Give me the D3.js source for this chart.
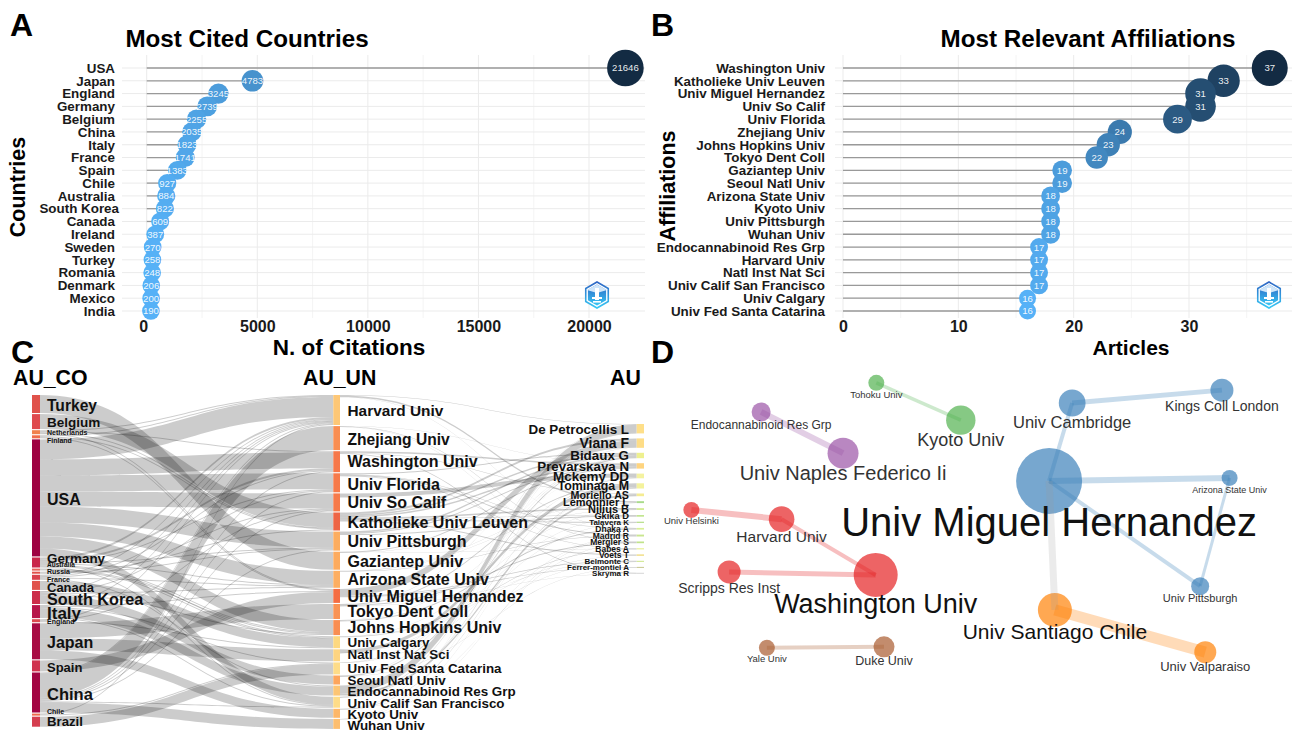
<!DOCTYPE html>
<html><head><meta charset="utf-8">
<script src="https://cdn.jsdelivr.net/npm/d3@7/dist/d3.min.js"></script>
<style>
html,body{margin:0;padding:0;background:#fff}
svg{display:block}
text{font-family:"Liberation Sans",Arial,sans-serif}
</style></head><body><svg id="c" width="1304" height="732"></svg>
<script>
// ---------- Panel A data
const countries=["USA","Japan","England","Germany","Belgium","China","Italy","France","Spain","Chile","Australia","South Korea","Canada","Ireland","Sweden","Turkey","Romania","Denmark","Mexico","India"];
const citations=[21646,4783,3245,2739,2255,2035,1823,1741,1383,927,884,822,609,387,270,258,248,206,200,190];
const citationTicks=[0,5000,10000,15000,20000];
const citationMinor=[2500,7500,12500,17500];
// ---------- Panel B data
const affiliations=["Washington Univ","Katholieke Univ Leuven","Univ Miguel Hernandez","Univ So Calif","Univ Florida","Zhejiang Univ","Johns Hopkins Univ","Tokyo Dent Coll","Gaziantep Univ","Seoul Natl Univ","Arizona State Univ","Kyoto Univ","Univ Pittsburgh","Wuhan Univ","Endocannabinoid Res Grp","Harvard Univ","Natl Inst Nat Sci","Univ Calif San Francisco","Univ Calgary","Univ Fed Santa Catarina"];
const articles=[37,33,31,31,29,24,23,22,19,19,18,18,18,18,17,17,17,17,16,16];
const articleTicks=[0,10,20,30];
const articleMinor=[5,15,25,35];
// ---------- Panel C data
const auCo=["Turkey","Belgium","Netherlands","Finland","USA","Germany","Australia","Russia","France","Canada","South Korea","Italy","England","Japan","Spain","China","Chile","Brazil"];
const auUn=["Harvard Univ","Zhejiang Univ","Washington Univ","Univ Florida","Univ So Calif","Katholieke Univ Leuven","Univ Pittsburgh","Gaziantep Univ","Arizona State Univ","Univ Miguel Hernandez","Tokyo Dent Coll","Johns Hopkins Univ","Univ Calgary","Natl Inst Nat Sci","Univ Fed Santa Catarina","Seoul Natl Univ","Endocannabinoid Res Grp","Univ Calif San Francisco","Kyoto Univ","Wuhan Univ"];
const au=["De Petrocellis L","Viana F","Bidaux G","Prevarskaya N","Mckemy DD","Tominaga M","Moriello AS","Lemonnier L","Nilius B","Gkika D","Talavera K","Dhaka A","Madrid R","Mergler S","Babes A","Voets T","Belmonte C","Ferrer-montiel A","Skryma R"];
const coUn=[["Turkey","Gaziantep Univ",18],["Belgium","Katholieke Univ Leuven",15],
["Netherlands","Katholieke Univ Leuven",1],["Netherlands","Harvard Univ",1],["Netherlands","Washington Univ",1],["Netherlands","Univ Miguel Hernandez",1],
["Finland","Katholieke Univ Leuven",1],["Finland","Harvard Univ",1],["Finland","Univ Miguel Hernandez",1],
["Russia","Katholieke Univ Leuven",1],["Russia","Univ Pittsburgh",1],
["China","Zhejiang Univ",24],["China","Wuhan Univ",10],["China","Washington Univ",1],["China","Univ Florida",1],["China","Univ So Calif",1],["China","Univ Calif San Francisco",1],["China","Univ Pittsburgh",1],["China","Harvard Univ",1],
["Japan","Tokyo Dent Coll",15],["Japan","Natl Inst Nat Sci",12],["Japan","Kyoto Univ",9],
["Spain","Univ Miguel Hernandez",11],
["Brazil","Univ Fed Santa Catarina",10],["Chile","Univ Fed Santa Catarina",1],["Chile","Harvard Univ",1],
["South Korea","Seoul Natl Univ",9],["South Korea","Harvard Univ",1],["South Korea","Johns Hopkins Univ",1],["South Korea","Univ Florida",1],["South Korea","Arizona State Univ",1],
["Canada","Univ Calgary",9],
["Italy","Endocannabinoid Res Grp",9],["Italy","Univ Miguel Hernandez",1],["Italy","Univ Fed Santa Catarina",1],["Italy","Univ Calif San Francisco",1],["Italy","Harvard Univ",1],
["England","Univ Calgary",1],["England","Harvard Univ",1],["England","Univ So Calif",1],
["Germany","Univ Calgary",1],["Germany","Harvard Univ",2],["Germany","Washington Univ",2],["Germany","Univ Pittsburgh",1],["Germany","Univ Florida",1],["Germany","Univ Calif San Francisco",1],["Germany","Arizona State Univ",1],["Germany","Johns Hopkins Univ",1],
["Australia","Univ Calgary",1],["Australia","Johns Hopkins Univ",1],
["France","Endocannabinoid Res Grp",1],["France","Harvard Univ",1],["France","Washington Univ",1],["France","Univ So Calif",1],["France","Arizona State Univ",1],
["USA","Harvard Univ",20],["USA","Washington Univ",16],["USA","Univ Florida",16],["USA","Univ So Calif",15],["USA","Univ Pittsburgh",16],["USA","Arizona State Univ",14],["USA","Johns Hopkins Univ",12],["USA","Univ Calif San Francisco",8]];
const unAu=[["Endocannabinoid Res Grp","De Petrocellis L",8],["Harvard Univ","De Petrocellis L",.5],["Univ Calif San Francisco","De Petrocellis L",.5],
["Univ Miguel Hernandez","Viana F",7],["Katholieke Univ Leuven","Viana F",2],
["Katholieke Univ Leuven","Bidaux G",1.5],["Univ Pittsburgh","Bidaux G",1.5],["Seoul Natl Univ","Bidaux G",1],["Univ Florida","Bidaux G",1],
["Katholieke Univ Leuven","Prevarskaya N",1.5],["Univ Pittsburgh","Prevarskaya N",1],["Washington Univ","Prevarskaya N",1.5],["Gaziantep Univ","Prevarskaya N",1],
["Univ So Calif","Mckemy DD",4],["Univ Calif San Francisco","Mckemy DD",.5],
["Natl Inst Nat Sci","Tominaga M",3.5],["Tokyo Dent Coll","Tominaga M",1],["Kyoto Univ","Tominaga M",.5],
["Endocannabinoid Res Grp","Moriello AS",2],["Washington Univ","Moriello AS",.5],
["Harvard Univ","Lemonnier L",1.5],["Katholieke Univ Leuven","Nilius B",1.5],
["Univ Pittsburgh","Gkika D",1],["Katholieke Univ Leuven","Gkika D",.5],["Katholieke Univ Leuven","Talavera K",1],
["Johns Hopkins Univ","Dhaka A",1],["Univ Florida","Dhaka A",.5],["Univ Florida","Madrid R",1],["Arizona State Univ","Madrid R",.5],
["Tokyo Dent Coll","Mergler S",1],["Zhejiang Univ","Mergler S",.5],["Univ Florida","Babes A",.5],["Univ Calgary","Babes A",.5],
["Katholieke Univ Leuven","Voets T",1],["Univ Miguel Hernandez","Belmonte C",.7],["Univ Miguel Hernandez","Ferrer-montiel A",.7],["Washington Univ","Skryma R",.7],
["Univ Fed Santa Catarina","Talavera K",.2],["Wuhan Univ","Madrid R",.2],["Zhejiang Univ","Voets T",.2],["Univ Calgary","Nilius B",.2],["Arizona State Univ","Lemonnier L",.2],["Johns Hopkins Univ","Belmonte C",.2],["Seoul Natl Univ","Ferrer-montiel A",.2],["Tokyo Dent Coll","Skryma R",.2],["Natl Inst Nat Sci","Gkika D",.2],["Kyoto Univ","Mergler S",.2],["Gaziantep Univ","Babes A",.2],["Wuhan Univ","Viana F",.2],["Univ Fed Santa Catarina","Bidaux G",.2],["Seoul Natl Univ","De Petrocellis L",.2],
["Univ Calgary","Prevarskaya N",.2],["Natl Inst Nat Sci","Bidaux G",.2],["Univ Fed Santa Catarina","Mckemy DD",.2],["Kyoto Univ","De Petrocellis L",.2],["Wuhan Univ","Tominaga M",.2],["Johns Hopkins Univ","Moriello AS",.2],["Gaziantep Univ","Lemonnier L",.2],["Arizona State Univ","Nilius B",.2],["Tokyo Dent Coll","Viana F",.2],["Harvard Univ","Dhaka A",.2],["Zhejiang Univ","Prevarskaya N",.2],["Univ Calgary","Voets T",.2],["Natl Inst Nat Sci","Belmonte C",.2],["Univ Calif San Francisco","Madrid R",.2]];
// Panel C styling tables (kept apart from the values)
const coColors=["#E0524B","#DF4A4E","#F0814D","#F06D4B","#9E0142","#C9264A","#E8635A","#E0524B","#D9434E","#E0524B","#CC2D4A","#B7164A","#DC4A4F","#A80B44","#D0334F","#A30543","#EE6A4B","#D53E4F"];
const unColors=["#FDC776","#F98E52","#F6784A","#F67A4A","#F67A4A","#EE6545","#FCAD60","#FDAB5E","#FDAE61","#F46D43","#F99355","#F98E52","#FDD87F","#FED480","#FEDC88","#FDA55C","#FDC574","#FEDC88","#FDB768","#FDBE6F"];
const auColors=["#FEDF89","#FEDD87","#EEF08F","#FED47F","#F4F2A0","#F4F29C","#F5EC92","#A9DB8A","#D4EC96","#C2E691","#B4DE85","#D9EF96","#C9E68F","#C0E38A","#E8F094","#F0DC80","#D0E890","#C0C080","#D0D0D0"];
const coFont=[15.6,13.5,7,7,16,13.4,6.5,7,7,13,16.2,17,7,16,13,16.5,7,13.2];
const coDy=[1,.5,0,3.5,1,-4,-5,-1,2,2,2,1,1,1,1,2,-3,0];
const unFont=[15.4,15.6,16,16,16,16,16,16,16,16,16,16,13.4,13.4,13.4,13.4,13.4,13.4,13.4,13.4];
const unDy=[0,1,0,1,0,1,0,1,0,0,0,0,0,-1,0,0,1,1,1,1];
const auFont=[13.4,14,13.4,13.3,13.4,12.4,10.7,11,11,9.3,8,8.5,8.5,8.5,8.5,8.5,8,8,8];
// ---------- Panel D data
const netNames=["Univ Miguel Hernandez","Univ Cambridge","Kings Coll London","Arizona State Univ","Univ Pittsburgh","Univ Santiago Chile","Univ Valparaiso","Washington Univ","Harvard Univ","Univ Helsinki","Scripps Res Inst","Univ Naples Federico Ii","Endocannabinoid Res Grp","Tohoku Univ","Kyoto Univ","Yale Univ","Duke Univ"];
const netX=[60.8,64.4,87.8,89,84.4,61.7,85.2,33.7,19,4.9,10.8,28.6,15.8,33.8,47,16.7,35];
const netY=[33.6,10,6.1,32.7,65.5,72.7,85.5,62.1,45.2,42.4,61.2,25.2,12.7,3.9,15.2,84.2,83.9];
const netSize=[33,13.4,11.5,8,9,17,11,22,12.8,8,11.5,15.5,9.5,8,14.7,8,10.5];
const netGroup=[0,0,0,0,0,1,1,2,2,2,2,3,3,4,4,5,5];
const netEdges=[[0,1,4],[1,2,5],[0,3,6],[0,4,4],[3,4,3],[0,5,7],[5,6,11],[7,8,4],[8,9,6],[7,10,5],[11,12,6],[13,14,3.5],[15,16,4]];
const netLabelSize=[40,16.5,14,9,11,21,13,27,15.5,9.5,14,20,12,9.5,18,9.5,12.5];
const netLabelDy=[14,8,7,5,5,8,5,11,7,4,7,7,5,5,8,4,5];
const netPalette=["#377EB8","#FF7F00","#E41A1C","#984EA3","#4DAF4A","#A65628"];

const svg=d3.select("#c");
svg.append("rect").attr("width",1304).attr("height",732).attr("fill","#fff");
const defs=svg.append("defs");
const grad=defs.append("linearGradient").attr("id","hexg").attr("x1",0).attr("y1",0).attr("x2",0).attr("y2",1);
grad.append("stop").attr("offset",0).attr("stop-color","#2f66c4");
grad.append("stop").attr("offset",1).attr("stop-color","#37c8f5");

function panelLetter(t,x,y){svg.append("text").attr("x",x).attr("y",y).attr("font-size",32).attr("font-weight",700).attr("fill","#000").text(t);}
panelLetter("A",10,36);panelLetter("B",651,36);panelLetter("C",11,363);panelLetter("D",651,363);

function hexLogo(g,cx,cy){
  const hex=r=>d3.line()(d3.range(6).map(i=>{const a=Math.PI/3*i-Math.PI/2;return [cx+r*Math.cos(a),cy+r*Math.sin(a)];}))+"Z";
  g.append("path").attr("d",hex(13)).attr("fill","#fff").attr("stroke","url(#hexg)").attr("stroke-width",1.6);
  g.append("path").attr("d",hex(10.5)).attr("fill","url(#hexg)");
  g.append("path").attr("d",`M${cx-10},${cy-5}L${cx},${cy-10.5}L${cx+10},${cy-5}L${cx},${cy-2}Z`).attr("fill","#cfe6fa");
  g.append("rect").attr("x",cx-2).attr("y",cy-7).attr("width",4).attr("height",12).attr("fill","#fff");
  g.append("rect").attr("x",cx-5).attr("y",cy+2).attr("width",10).attr("height",2).attr("fill","#fff");
  g.append("rect").attr("x",cx-4).attr("y",cy+6).attr("width",8).attr("height",1.6).attr("fill","#fff");
}

function lollipop(o){
  const g=svg.append("g");
  const x=d3.scaleLinear().domain(o.dom).range(o.rng);
  const y=d3.scalePoint().domain(o.cats).range([68,311]);
  const color=d3.scaleLinear().domain(d3.extent(o.vals)).range(["#56B1F7","#132B43"]).interpolate(d3.interpolateLab);
  const r=d3.scaleLinear().domain(d3.extent(o.vals)).range(o.rr);
  g.append("g").selectAll("line").data(o.minor).join("line").attr("x1",d=>x(d)).attr("x2",d=>x(d)).attr("y1",55).attr("y2",318).attr("stroke","#f1f1f1").attr("stroke-width",.8);
  g.append("g").selectAll("line").data(o.ticks).join("line").attr("x1",d=>x(d)).attr("x2",d=>x(d)).attr("y1",55).attr("y2",318).attr("stroke","#ebebeb").attr("stroke-width",1);
  g.append("g").selectAll("line").data(o.cats).join("line").attr("x1",o.gx0).attr("x2",o.gx1).attr("y1",d=>y(d)).attr("y2",d=>y(d)).attr("stroke","#ebebeb").attr("stroke-width",1);
  g.append("g").selectAll("line").data(o.cats).join("line").attr("x1",x(0)).attr("x2",(d,i)=>x(o.vals[i])).attr("y1",d=>y(d)).attr("y2",d=>y(d)).attr("stroke","#999").attr("stroke-width",1.3);
  hexLogo(g,o.logoX,295);
  const idx=d3.range(o.cats.length);
  g.append("g").selectAll("circle").data(idx).join("circle").attr("cx",i=>x(o.vals[i])).attr("cy",i=>y(o.cats[i])).attr("r",i=>r(o.vals[i])).attr("fill",i=>color(o.vals[i]));
  g.append("g").selectAll("text").data(idx).join("text").attr("x",i=>x(o.vals[i])).attr("y",i=>y(o.cats[i])).attr("dy",".36em").attr("text-anchor","middle").attr("font-size",o.dotFont).attr("fill","#fff").attr("fill-opacity",.92).text(i=>o.vals[i]);
  const ax=g.append("g").attr("transform","translate(0,318)").call(d3.axisBottom(x).tickValues(o.ticks).tickFormat(d3.format("d")).tickSize(0).tickPadding(3));
  ax.select(".domain").remove();
  ax.selectAll("text").attr("font-size",16).attr("font-weight",700).attr("fill","#1a1a1a").attr("dx",d=>d===0?o.zeroDx:0).style("font-family",'"Liberation Sans",Arial,sans-serif');
  const ay=g.append("g").attr("transform",`translate(${o.axX},0)`).call(d3.axisLeft(y).tickSize(0).tickPadding(0));
  ay.select(".domain").remove();
  ay.selectAll("text").attr("font-size",13.4).attr("font-weight",700).attr("fill","#1a1a1a").attr("dx",d=>d==="South Korea"?4:0).style("font-family",'"Liberation Sans",Arial,sans-serif');
  g.append("text").attr("x",o.titleX).attr("y",47).attr("text-anchor","middle").attr("font-size",24.2).attr("font-weight",700).attr("fill","#000").text(o.title);
  g.append("text").attr("x",o.xlabX).attr("y",355).attr("text-anchor","middle").attr("font-size",o.xlabSize).attr("font-weight",700).attr("fill","#000").text(o.xlab);
  g.append("text").attr("transform",`translate(${o.ylabX},${o.ylabY}) rotate(-90)`).attr("text-anchor","middle").attr("font-size",21.5).attr("font-weight",700).attr("fill","#000").text(o.ylab);
}
lollipop({cats:countries,vals:citations,dom:[0,20000],rng:[146.7,589],ticks:citationTicks,minor:citationMinor,gx0:122,gx1:645,rr:[8.8,18.3],axX:115,logoX:597,dotFont:9.6,zeroDx:-3.5,title:"Most Cited Countries",titleX:247,xlab:"N. of Citations",xlabX:349,xlabSize:22.5,ylab:"Countries",ylabX:25,ylabY:187});
lollipop({cats:affiliations,vals:articles,dom:[0,30],rng:[843,1189],ticks:articleTicks,minor:articleMinor,gx0:835,gx1:1292,rr:[8.5,18],axX:825,logoX:1269,dotFont:9.6,zeroDx:0,title:"Most Relevant Affiliations",titleX:1088,xlab:"Articles",xlabX:1131,xlabSize:21,ylab:"Affiliations",ylabX:675,ylabY:186});

// ---------- Panel C: three-column alluvial
(function(){
  const g=svg.append("g");
  const cols=[{names:auCo,x0:32,x1:40,start:395,gap:1.1},{names:auUn,x0:333.3,x1:340,start:395,gap:1.1},{names:au,x0:636.7,x1:644,start:424,gap:5}];
  const nodes=new Map();
  cols.forEach((c,ci)=>c.names.forEach((n,i)=>nodes.set(ci+"|"+n,{name:n,col:ci,i,inn:[],out:[]})));
  const links=[];
  coUn.forEach(([a,b,v])=>links.push({s:nodes.get("0|"+a),t:nodes.get("1|"+b),v}));
  unAu.forEach(([a,b,v])=>links.push({s:nodes.get("1|"+a),t:nodes.get("2|"+b),v}));
  links.forEach(l=>{l.s.out.push(l);l.t.inn.push(l);});
  cols.forEach((c,ci)=>{
    let y=c.start;
    c.names.forEach(n=>{
      const d=nodes.get(ci+"|"+n);
      d.h=Math.max(d3.sum(d.inn,l=>l.v),d3.sum(d.out,l=>l.v));
      d.y=y;y+=d.h+c.gap;
      let yo=d.y;d.out.sort((a,b)=>d3.ascending(a.t.i,b.t.i)).forEach(l=>{l.y0=yo;yo+=l.v;});
      let yi=d.y;d.inn.sort((a,b)=>d3.ascending(a.s.i,b.s.i)).forEach(l=>{l.y1=yi;yi+=l.v;});
    });
  });
  const ribbon=l=>{
    const x0=cols[l.s.col].x1,x1=cols[l.t.col].x0,xm=(x0+x1)/2,p=d3.path();
    p.moveTo(x0,l.y0);p.bezierCurveTo(xm,l.y0,xm,l.y1,x1,l.y1);
    p.lineTo(x1,l.y1+l.v);p.bezierCurveTo(xm,l.y1+l.v,xm,l.y0+l.v,x0,l.y0+l.v);p.closePath();
    return p.toString();
  };
  g.append("g").selectAll("path").data(links).join("path").attr("d",ribbon).attr("fill","#000").attr("fill-opacity",.2);
  const colorsBy=[coColors,unColors,auColors];
  const all=[...nodes.values()];
  g.append("g").selectAll("rect").data(all).join("rect").attr("x",d=>cols[d.col].x0).attr("width",d=>cols[d.col].x1-cols[d.col].x0).attr("y",d=>d.y).attr("height",d=>d.h).attr("fill",d=>colorsBy[d.col][d.i]);
  const sizes=[coFont,unFont,auFont];
  const dys=[coDy,unDy,au.map(()=>0)];
  g.append("g").selectAll("text").data(all).join("text")
    .attr("x",d=>d.col==0?47:d.col==1?347.5:629)
    .attr("y",d=>d.y+d.h/2+dys[d.col][d.i]).attr("dy",".36em")
    .attr("text-anchor",d=>d.col==2?"end":"start")
    .attr("font-size",d=>sizes[d.col][d.i]).attr("font-weight",700).attr("fill","#111").text(d=>d.name);
  [["AU_CO",13],["AU_UN",303],["AU",610]].forEach(([t,x])=>g.append("text").attr("x",x).attr("y",385).attr("font-size",21.3).attr("font-weight",700).attr("fill","#000").text(t));
})();

// ---------- Panel D: collaboration network
(function(){
  const g=svg.append("g");
  const x=d3.scaleLinear().domain([0,100]).range([660,1300]);
  const y=d3.scaleLinear().domain([0,100]).range([370,700]);
  const idx=d3.range(netNames.length);
  g.append("g").selectAll("circle").data(idx).join("circle").attr("cx",i=>x(netX[i])).attr("cy",i=>y(netY[i])).attr("r",i=>netSize[i]).attr("fill",i=>netPalette[netGroup[i]]).attr("fill-opacity",.68);
  g.append("g").selectAll("line").data(netEdges).join("line")
    .attr("x1",e=>x(netX[e[0]])).attr("y1",e=>y(netY[e[0]])).attr("x2",e=>x(netX[e[1]])).attr("y2",e=>y(netY[e[1]]))
    .attr("stroke-width",e=>e[2])
    .attr("stroke",e=>netGroup[e[0]]===netGroup[e[1]]?netPalette[netGroup[e[0]]]:"#999")
    .attr("stroke-opacity",e=>netGroup[e[0]]===netGroup[e[1]]?.28:.2);
  g.append("g").selectAll("text").data(idx).join("text").attr("x",i=>x(netX[i])).attr("y",i=>y(netY[i])+netSize[i]+netLabelDy[i]).attr("text-anchor","middle").attr("dy",".2em")
    .attr("font-size",i=>netLabelSize[i]).attr("fill",i=>netLabelSize[i]>20?"#111":"#333").text(i=>netNames[i]);
})();
</script></body></html>
